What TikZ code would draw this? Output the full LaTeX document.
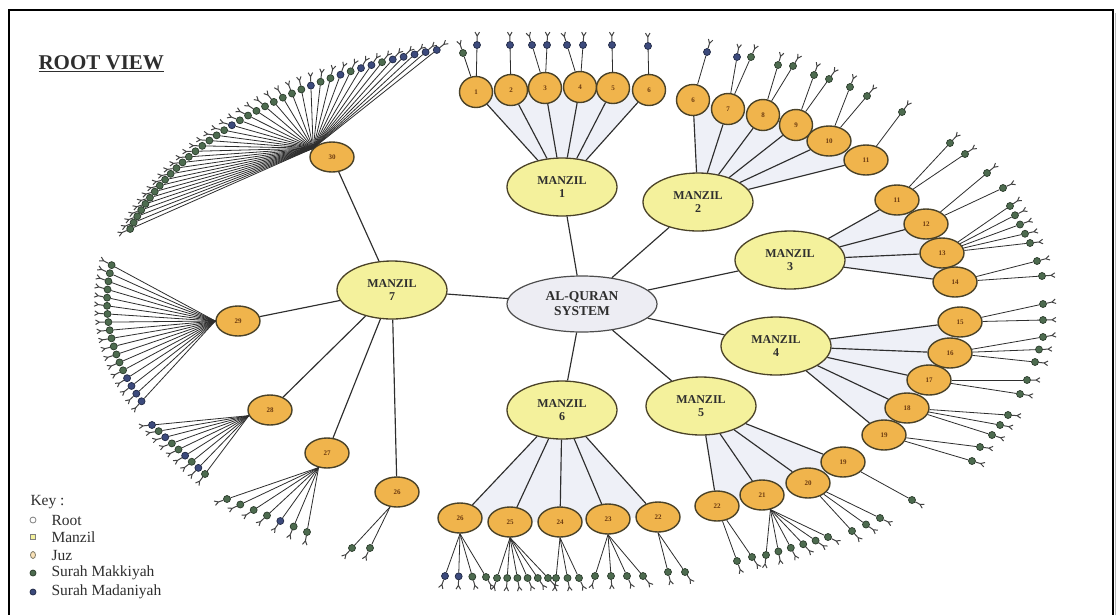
\documentclass[tikz,border=0pt]{standalone}
\usepackage{fontspec}
\setmainfont{Liberation Serif}
\usetikzlibrary{calc,backgrounds,shapes.geometric}
\definecolor{mk}{HTML}{4D6B4F}
\definecolor{md}{HTML}{3C4A7C}
\definecolor{manz}{HTML}{F4F19C}
\definecolor{juzc}{HTML}{F0B44C}
\definecolor{rootc}{HTML}{EDEDF3}
\definecolor{outl}{HTML}{4A4228}
\definecolor{shadec}{HTML}{EEF0F7}
\definecolor{ln}{HTML}{2E2E2E}
\definecolor{juzt}{HTML}{6B3A10}

\newcommand\leafat[5]{% #1 source, #2 leaf name, #3 x, #4 y, #5 colour
  \node[leaf=#5] (#2) at (#3,#4) {};
  \draw[twig] (#1) -- (#2);
  \coordinate (gE) at ($(#2.center)!-9pt!(#1)$);
  \draw[glyph] (#2) -- (gE) ($(gE)!4.5pt!150:(#2.center)$) -- (gE) -- ($(gE)!4.5pt!-150:(#2.center)$);
}
\newcommand\linfan[8]{% src, name, x1,y1,x2,y2, n, colours
  \foreach \lc [count=\kk] in {#8}{%
    \ifnum#7=1\relax\def\fr{0}\else\pgfmathsetmacro\fr{(\kk-1)/(#7-1)}\fi
    \pgfmathsetmacro\px{#3+\fr*(#5-#3)}%
    \pgfmathsetmacro\py{#4+\fr*(#6-#4)}%
    \leafat{#1}{#2-\kk}{\px}{\py}{\lc}%
  }}
\newcommand\arcfan[8]{% src, name, a, b, t1, t2, n, colours
  \foreach \lc [count=\kk] in {#8}{%
    \pgfmathsetmacro\ang{#5+(\kk-1)*(#6-#5)/(#7-1)}%
    \pgfmathsetmacro\px{582+#3*cos(\ang)}%
    \pgfmathsetmacro\py{302-#4*sin(\ang)}%
    \leafat{#1}{#2-\kk}{\px}{\py}{\lc}%
  }}

\begin{document}
\begin{tikzpicture}[x=1pt,y=-1pt,
  rootnode/.style={ellipse, draw=ln!85, line width=1.2pt, fill=rootc, minimum width=150pt, minimum height=56pt, inner sep=0pt, align=center, font=\bfseries\fontsize{13.5}{15}\selectfont, text=ln},
  manzil/.style={ellipse, draw=outl, line width=1.3pt, fill=manz, minimum width=110pt, minimum height=58pt, inner sep=0pt, align=center, font=\bfseries\fontsize{12}{13.5}\selectfont, text=ln},
  juz/.style={ellipse, draw=outl, line width=1.4pt, fill=juzc, minimum width=44pt, minimum height=30pt, inner sep=0pt, text=juzt, font=\bfseries\fontsize{7}{8}\selectfont},
  sjuz/.style={juz, minimum width=33pt, minimum height=31pt},
  leaf/.style={circle, draw=#1!55!black, fill=#1, inner sep=0pt, minimum size=7pt, line width=0.7pt},
  edge/.style={draw=ln, line width=1.15pt},
  twig/.style={draw=ln, line width=0.8pt},
  glyph/.style={draw=ln!90, line width=1pt},
  keytext/.style={anchor=west, text=ln, font=\fontsize{15.5}{17}\selectfont},
  keymark/.style={inner sep=0pt, minimum size=6pt, line width=0.8pt}
]
\useasboundingbox (0,0) rectangle (1116,614);

% frame
\draw[gray!55, line width=1.6pt] (1116,13) -- (1116,630);
\draw[line width=1.8pt] (9,630) -- (9,10) -- (1113,10) -- (1113,630);

% title
\node[anchor=base west, font=\bfseries\fontsize{21}{22}\selectfont, text=ln] (title) at (35,69) {\underline{ROOT VIEW}};

% root and manzils
\node[rootnode] (root) at (582,304) {AL-QURAN\\SYSTEM};
\node[manzil] (m1) at (562,187) {MANZIL\\1};
\node[manzil] (m2) at (698,202) {MANZIL\\2};
\node[manzil] (m3) at (790,260) {MANZIL\\3};
\node[manzil] (m4) at (776,346) {MANZIL\\4};
\node[manzil] (m5) at (701,406) {MANZIL\\5};
\node[manzil] (m6) at (562,410) {MANZIL\\6};
\node[manzil] (m7) at (392,290) {MANZIL\\7};

% juz nodes
\node[sjuz] (j1) at (476,92) {1};
\node[sjuz] (j2) at (511,90) {2};
\node[sjuz] (j3) at (545,88) {3};
\node[sjuz] (j4) at (580,87) {4};
\node[sjuz] (j5) at (613,88) {5};
\node[sjuz] (j6a) at (649,90) {6};

\node[sjuz] (j6b) at (693,100) {6};
\node[sjuz] (j7) at (728,109) {7};
\node[sjuz] (j8) at (763,115) {8};
\node[sjuz] (j9) at (796,125) {9};
\node[juz] (j10) at (829,141) {10};
\node[juz] (j11a) at (866,160) {11};

\node[juz] (j11b) at (897,200) {11};
\node[juz] (j12) at (926,224) {12};
\node[juz] (j13) at (942,253) {13};
\node[juz] (j14) at (955,282) {14};

\node[juz] (j15) at (960,322) {15};
\node[juz] (j16) at (950,353) {16};
\node[juz] (j17) at (929,380) {17};
\node[juz] (j18) at (907,408) {18};
\node[juz] (j19a) at (884,435) {19};

\node[juz] (j19b) at (843,462) {19};
\node[juz] (j20) at (808,483) {20};
\node[juz] (j21) at (762,495) {21};
\node[juz] (j22a) at (717,506) {22};

\node[juz] (j26a) at (460,518) {26};
\node[juz] (j25) at (510,522) {25};
\node[juz] (j24) at (560,522) {24};
\node[juz] (j23) at (608,519) {23};
\node[juz] (j22b) at (658,517) {22};

\node[juz] (j30) at (332,157) {30};
\node[juz] (j29) at (238,321) {29};
\node[juz] (j28) at (270,410) {28};
\node[juz] (j27) at (327,453) {27};
\node[juz] (j26b) at (397,492) {26};

% background: white and fan shading
\begin{pgfonlayer}{background}
\fill[white] (0,0) rectangle (1116,614);
\fill[shadec] (m1.center) -- (j1.center) -- (j2.center) -- (j3.center) -- (j4.center) -- (j5.center) -- (j6a.center) -- cycle;
\fill[shadec] (m2.center) -- (j6b.center) -- (j7.center) -- (j8.center) -- (j9.center) -- (j10.center) -- (j11a.center) -- cycle;
\fill[shadec] (m3.center) -- (j11b.center) -- (j12.center) -- (j13.center) -- (j14.center) -- cycle;
\fill[shadec] (m4.center) -- (j15.center) -- (j16.center) -- (j17.center) -- (j18.center) -- (j19a.center) -- cycle;
\fill[shadec] (m5.center) -- (j19b.center) -- (j20.center) -- (j21.center) -- (j22a.center) -- cycle;
\fill[shadec] (m6.center) -- (j26a.center) -- (j25.center) -- (j24.center) -- (j23.center) -- (j22b.center) -- cycle;
\end{pgfonlayer}

% root edges
\foreach \m in {m1,m2,m3,m4,m5,m6,m7} \draw[edge] (root) -- (\m);
% manzil edges
\foreach \j in {j1,j2,j3,j4,j5,j6a} \draw[edge] (m1) -- (\j);
\foreach \j in {j6b,j7,j8,j9,j10,j11a} \draw[edge] (m2) -- (\j);
\foreach \j in {j11b,j12,j13,j14} \draw[edge] (m3) -- (\j);
\foreach \j in {j15,j16,j17,j18,j19a} \draw[edge] (m4) -- (\j);
\foreach \j in {j19b,j20,j21,j22a} \draw[edge] (m5) -- (\j);
\foreach \j in {j26a,j25,j24,j23,j22b} \draw[edge] (m6) -- (\j);
\foreach \j in {j30,j29,j28,j27,j26b} \draw[edge] (m7) -- (\j);

% leaves: manzil 1
\linfan{j1}{j1}{463}{53}{477}{45}{2}{mk,md}
\linfan{j2}{j2}{510}{45}{510}{45}{1}{md}
\linfan{j3}{j3}{532}{45}{547}{45}{2}{md,md}
\linfan{j4}{j4}{567}{45}{583}{45}{2}{md,md}
\linfan{j5}{j5}{612}{45}{612}{45}{1}{md}
\linfan{j6a}{j6a}{648}{46}{648}{46}{1}{md}
% manzil 2
\linfan{j6b}{j6b}{707}{52}{707}{52}{1}{md}
\linfan{j7}{j7}{737}{57}{751}{57}{2}{md,mk}
\linfan{j8}{j8}{778}{65}{793}{66}{2}{mk,mk}
\linfan{j9}{j9}{814}{75}{829}{79}{2}{mk,mk}
\linfan{j10}{j10}{850}{87}{867}{96}{2}{mk,mk}
\linfan{j11a}{j11a}{902}{112}{902}{112}{1}{mk}
% manzil 3
\linfan{j11b}{j11b}{950}{143}{965}{154}{2}{mk,mk}
\linfan{j12}{j12}{987}{173}{1003}{188}{2}{mk,mk}
\linfan{j13}{j13}{1010}{206}{1030}{243}{5}{mk,mk,mk,mk,mk}
\linfan{j14}{j14}{1037}{261}{1042}{276}{2}{mk,mk}
% manzil 4
\linfan{j15}{j15}{1043}{304}{1043}{320}{2}{mk,mk}
\linfan{j16}{j16}{1043}{337}{1035}{362}{3}{mk,mk,mk}
\linfan{j17}{j17}{1027}{380}{1020}{394}{2}{mk,mk}
\linfan{j18}{j18}{1008}{415}{992}{435}{3}{mk,mk,mk}
\linfan{j19a}{j19a}{980}{447}{972}{461}{2}{mk,mk}
% manzil 5
\linfan{j19b}{j19b}{912}{500}{912}{500}{1}{mk}
\linfan{j20}{j20}{880}{518}{852}{531}{3}{mk,mk,mk}
\linfan{j21.300}{j21}{828}{537}{766}{555}{6}{mk,mk,mk,mk,mk,mk}
\linfan{j22a}{j22a}{752}{557}{737}{561}{2}{mk,mk}
% manzil 6
\linfan{j26a.south}{j26a}{445}{576}{486}{577}{4}{md,md,mk,mk}
\linfan{j25.south}{j25}{497}{578}{548}{578}{6}{mk,mk,mk,mk,mk,mk}
\linfan{j24.south}{j24}{556}{578}{579}{578}{3}{mk,mk,mk}
\linfan{j23.south}{j23}{595}{576}{643}{576}{4}{mk,mk,mk,mk}
\linfan{j22b.south}{j22b}{668}{572}{685}{572}{2}{mk,mk}
% manzil 7
\arcfan{j30.155}{j30}{470}{265}{164}{108}{40}{mk,mk,mk,mk,mk,mk,mk,mk,mk,mk,mk,mk,mk,mk,mk,mk,mk,mk,md,mk,mk,mk,mk,mk,mk,mk,mk,md,mk,mk,md,mk,md,md,mk,md,md,md,md,md}
\arcfan{j29.west}{j29}{475}{265}{172}{202}{18}{mk,mk,mk,mk,mk,mk,mk,mk,mk,mk,mk,mk,mk,mk,md,md,md,md}
\linfan{j28.195}{j28}{152}{425}{205}{474}{9}{md,mk,md,mk,mk,md,mk,md,mk}
\linfan{j27.240}{j27}{227}{499}{307}{532}{7}{mk,mk,mk,mk,md,mk,mk}
\linfan{j26b.245}{j26b}{352}{548}{370}{548}{2}{mk,mk}

% key
\node[keytext] (keyhead) at (27,502) {Key :};
\node[keymark, circle, draw=gray, fill=white] (k1) at (33,520) {};
\node[keytext] (k1t) at (48,520) {Root};
\node[keymark, rectangle, draw=gray, fill=manz, minimum size=5pt] (k2) at (33,537) {};
\node[keytext] (k2t) at (48,537) {Manzil};
\node[keymark, ellipse, draw=outl!70, fill=juzc!40, minimum width=5pt, minimum height=7pt] (k3) at (33,555) {};
\node[keytext] (k3t) at (48,555) {Juz};
\node[keymark, circle, draw=mk!60!black, fill=mk] (k4) at (33,573) {};
\node[keytext] (k4t) at (48,573) {Surah Makkiyah};
\node[keymark, circle, draw=md!60!black, fill=md] (k5) at (33,592) {};
\node[keytext] (k5t) at (48,592) {Surah Madaniyah};
\end{tikzpicture}
\end{document}
